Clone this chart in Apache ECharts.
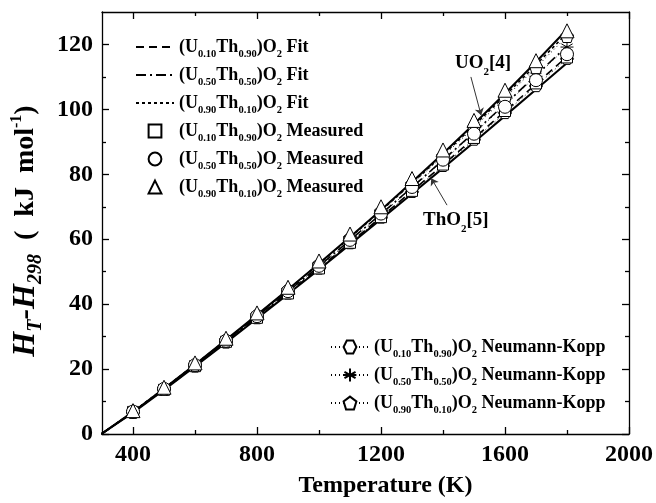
<!DOCTYPE html>
<html><head><meta charset="utf-8">
<script src="https://cdn.jsdelivr.net/npm/echarts@6/dist/echarts.min.js"></script>
<style>html,body{margin:0;padding:0;background:#fff}#c{width:656px;height:503px}</style>
</head><body><div id="c"></div>
<script>
const FONT = '"Liberation Serif","Times New Roman",serif';

// temperatures (K)
const tLine = [298,400,500,600,700,800,900,1000,1100,1200,1300,1400,1500,1600,1700,1800];
const tPts  = [400,500,600,700,800,900,1000,1100,1200,1300,1400,1500,1600,1700,1800];

// reference curves (kJ/mol)
const uo2Ref  = [0,6.8,14.0,21.4,29.0,36.7,44.5,52.5,60.7,69.0,77.6,86.4,95.5,104.9,114.6,124.6];
const tho2Ref = [0,6.6,13.6,20.8,28.1,35.6,43.1,50.7,58.4,66.2,74.0,81.9,89.9,98.0,106.1,114.3];

// fits
const fitU10 = [0,6.7,13.7,20.9,28.3,35.8,43.4,51.1,58.9,66.8,74.8,82.9,91.1,99.4,107.8,116.3];
const fitU50 = [0,6.8,13.8,21.1,28.6,36.2,43.9,51.7,59.7,67.8,76.0,84.4,92.9,101.6,110.5,119.5];
const fitU90 = [0,6.9,14.0,21.4,28.9,36.6,44.4,52.4,60.5,68.8,77.3,86.0,95.0,104.2,113.7,123.5];

// measured
const measU10 = [6.8,13.6,20.9,28.4,35.8,43.3,51.0,58.9,66.8,74.9,83.0,91.2,99.5,108.0,116.0];
const measU50 = [6.9,13.9,21.2,28.7,36.3,44.0,51.8,59.8,67.9,76.1,84.5,92.5,100.8,109.0,117.0];
const measU90 = [7.2,14.4,21.9,29.5,37.3,45.2,53.3,61.6,70.0,78.7,87.5,96.6,105.9,115.0,124.2];

// Neumann-Kopp
const nkU10 = [6.6,13.6,20.8,28.2,35.7,43.3,51.0,58.8,66.7,74.6,82.6,90.7,98.9,107.2,115.6];
const nkU50 = [6.7,13.8,21.1,28.5,36.1,43.8,51.6,59.5,67.6,75.8,84.1,92.6,101.3,110.2,119.2];
const nkU90 = [6.8,13.9,21.3,28.9,36.6,44.4,52.3,60.4,68.6,77.0,85.6,94.4,103.5,112.9,122.5];

// ticks
const xMajor = [400,800,1200,1600,2000];
const xMinor = [600,1000,1400,1800];
const yMajor = [0,20,40,60,80,100,120];
const yMinor = [10,30,50,70,90,110];

// annotation arrows (data space)
const uo2Arrow  = [[1490,110],[1523,98.2]];
const tho2Arrow = [[1413,70.5],[1362,78.8]];

const zip = (a,b) => a.map((v,i)=>[v,b[i]]);

const sub = {fontSize:10.5, fontWeight:'bold', fontFamily:FONT, color:'#000', verticalAlign:'bottom', padding:[0,0,-2,0]};
const nrm = {fontSize:18, fontWeight:'bold', fontFamily:FONT, color:'#000', lineHeight:22};
const richLegend = {n:nrm, s:sub};

const names = {
  fit10:'{n|(U}{s|0.10}{n|Th}{s|0.90}{n|)O}{s|2}{n| Fit}',
  fit50:'{n|(U}{s|0.50}{n|Th}{s|0.50}{n|)O}{s|2}{n| Fit}',
  fit90:'{n|(U}{s|0.90}{n|Th}{s|0.10}{n|)O}{s|2}{n| Fit}',
  m10:'{n|(U}{s|0.10}{n|Th}{s|0.90}{n|)O}{s|2}{n| Measured}',
  m50:'{n|(U}{s|0.50}{n|Th}{s|0.50}{n|)O}{s|2}{n| Measured}',
  m90:'{n|(U}{s|0.90}{n|Th}{s|0.10}{n|)O}{s|2}{n| Measured}',
  nk10:'{n|(U}{s|0.10}{n|Th}{s|0.90}{n|)O}{s|2}{n| Neumann-Kopp}',
  nk50:'{n|(U}{s|0.50}{n|Th}{s|0.50}{n|)O}{s|2}{n| Neumann-Kopp}',
  nk90:'{n|(U}{s|0.90}{n|Th}{s|0.10}{n|)O}{s|2}{n| Neumann-Kopp}'
};

const hexPath  = 'path://M-10,0L-5,-8.66L5,-8.66L10,0L5,8.66L-5,8.66Z';
const starPath = 'path://M0,-10L0,10M-8.66,-5L8.66,5M-8.66,5L8.66,-5M-10,0L10,0';
const pentPath = 'path://M0,-10L9.51,-3.09L5.88,8.09L-5.88,8.09L-9.51,-3.09Z';

const hollow = {color:'#fff', borderColor:'#000', borderWidth:1};
const black = '#000';

function xAx(pos, ticks, len, showLine, showLabel){
  return {type:'value', min:300, max:2000, position:pos,
    axisLine:{show:showLine, onZero:false, lineStyle:{color:black, width:1.3}},
    axisTick:{show:true, inside:true, length:len, customValues:ticks, lineStyle:{color:black,width:1.3}},
    axisLabel:{show:showLabel, customValues:ticks, formatter:v=>String(v), fontSize:24, fontWeight:'bold', fontFamily:FONT, color:black, margin:9},
    splitLine:{show:false}};
}
function yAx(pos, ticks, len, showLine, showLabel){
  return {type:'value', min:0, max:130, position:pos,
    axisLine:{show:showLine, onZero:false, lineStyle:{color:black, width:1.3}},
    axisTick:{show:true, inside:true, length:len, customValues:ticks, lineStyle:{color:black,width:1.3}},
    axisLabel:{show:showLabel, customValues:ticks, formatter:v=>String(v), fontSize:24, fontWeight:'bold', fontFamily:FONT, color:black, margin:9},
    splitLine:{show:false}};
}

const xa0 = xAx('bottom', xMajor, 7, true, true);
xa0.name = 'Temperature (K)';
xa0.nameLocation = 'middle';
xa0.nameGap = 40;
xa0.nameTextStyle = {fontSize:24, fontWeight:'bold', fontFamily:FONT, color:black, padding:[0,0,0,40]};

const ya0 = yAx('left', yMajor, 7, true, true);
ya0.name = '{h|H}{hs|T}{h|-H}{hs|298}{n|  (  kJ  mol}{sup|-1}{n|)}';
ya0.nameLocation = 'middle';
ya0.nameGap = 56;
ya0.nameTextStyle = {padding:[0,0,0,-16], rich:{
  h:{fontSize:32, fontWeight:'bold', fontStyle:'italic', fontFamily:FONT, color:black, lineHeight:34},
  hs:{fontSize:20, fontWeight:'bold', fontStyle:'italic', fontFamily:FONT, color:black, verticalAlign:'bottom', padding:[0,0,-3,0]},
  n:{fontSize:28, fontWeight:'bold', fontFamily:FONT, color:black, lineHeight:34},
  sup:{fontSize:16, fontWeight:'bold', fontFamily:FONT, color:black, verticalAlign:'top'}
}};

const fitLegendItem = n => ({name:n, itemStyle:{opacity:0}});

const option = {
  animation:false,
  backgroundColor:'#fff',
  grid:{left:102, right:27, top:12, bottom:62, containLabel:false},
  xAxis:[xa0, xAx('bottom', xMinor, 4, false, false), xAx('top', xMajor, 7, true, false), xAx('top', xMinor, 4, false, false)],
  yAxis:[ya0, yAx('left', yMinor, 4, false, false), yAx('right', yMajor, 7, true, false), yAx('right', yMinor, 4, false, false)],
  legend:[
    {data:[fitLegendItem('fit10'),fitLegendItem('fit50'),fitLegendItem('fit90'),'m10','m50','m90'], left:130, top:33, orient:'vertical',
     itemWidth:38, itemHeight:16, itemGap:6, formatter:n=>names[n], textStyle:{rich:richLegend}, selectedMode:false},
    {data:['nk10','nk50','nk90'], left:325, top:333, orient:'vertical',
     itemWidth:38, itemHeight:16, itemGap:6, formatter:n=>names[n], textStyle:{rich:richLegend}, selectedMode:false}
  ],
  graphic:[
    {type:'text', left:455, top:54, style:{text:'{n|UO}{s|2}{n|[4]}', rich:{n:{fontSize:19,fontWeight:'bold',fontFamily:FONT,fill:black,lineHeight:24}, s:{fontSize:11,fontWeight:'bold',fontFamily:FONT,fill:black,verticalAlign:'bottom',padding:[0,0,-2,0]}}}},
    {type:'text', left:423, top:211, style:{text:'{n|ThO}{s|2}{n|[5]}', rich:{n:{fontSize:19,fontWeight:'bold',fontFamily:FONT,fill:black,lineHeight:24}, s:{fontSize:11,fontWeight:'bold',fontFamily:FONT,fill:black,verticalAlign:'bottom',padding:[0,0,-2,0]}}}}
  ],
  series:[
    {name:'UO2', type:'line', data:zip(tLine,uo2Ref), symbol:'none', color:black, lineStyle:{color:black,width:2}, z:2,
     markLine:{silent:true, symbol:['none','arrow'], symbolSize:7, label:{show:false}, lineStyle:{color:'#333',width:1,type:'solid'},
       data:[[{coord:uo2Arrow[0]},{coord:uo2Arrow[1]}]]}},
    {name:'ThO2', type:'line', data:zip(tLine,tho2Ref), symbol:'none', color:black, lineStyle:{color:black,width:2}, z:2,
     markLine:{silent:true, symbol:['none','arrow'], symbolSize:7, label:{show:false}, lineStyle:{color:'#333',width:1,type:'solid'},
       data:[[{coord:tho2Arrow[0]},{coord:tho2Arrow[1]}]]}},
    {name:'fit10', type:'line', data:zip(tLine,fitU10), symbol:'none', color:black, lineStyle:{color:black,width:1.6,type:[8,5]}, z:3},
    {name:'fit50', type:'line', data:zip(tLine,fitU50), symbol:'none', color:black, lineStyle:{color:black,width:1.6,type:[10,4,2,4]}, z:3},
    {name:'fit90', type:'line', data:zip(tLine,fitU90), symbol:'none', color:black, lineStyle:{color:black,width:1.6,type:[3,3]}, z:3},
    {name:'nk10', type:'line', data:zip(tPts,nkU10), symbol:hexPath, symbolSize:13, symbolKeepAspect:true, itemStyle:hollow, lineStyle:{color:black,width:1,type:[1,3]}, z:4},
    {name:'nk50', type:'line', data:zip(tPts,nkU50), symbol:starPath, symbolSize:13, symbolKeepAspect:true, itemStyle:{color:'none',borderColor:black,borderWidth:1}, lineStyle:{color:black,width:1,type:[1,3]}, z:4},
    {name:'nk90', type:'line', data:zip(tPts,nkU90), symbol:pentPath, symbolSize:13, symbolKeepAspect:true, itemStyle:hollow, lineStyle:{color:black,width:1,type:[1,3]}, z:4},
    {name:'m10', type:'line', data:zip(tPts,measU10), symbol:'rect', symbolSize:11, itemStyle:hollow, lineStyle:{width:0,opacity:0}, z:5},
    {name:'m50', type:'line', data:zip(tPts,measU50), symbol:'circle', symbolSize:13, itemStyle:hollow, lineStyle:{width:0,opacity:0}, z:5},
    {name:'m90', type:'line', data:zip(tPts,measU90), symbol:'triangle', symbolSize:14, itemStyle:hollow, lineStyle:{width:0,opacity:0}, z:5}
  ]
};
const chart = echarts.init(document.getElementById('c'), null, {renderer:'canvas'});
chart.setOption(option);
</script></body></html>
